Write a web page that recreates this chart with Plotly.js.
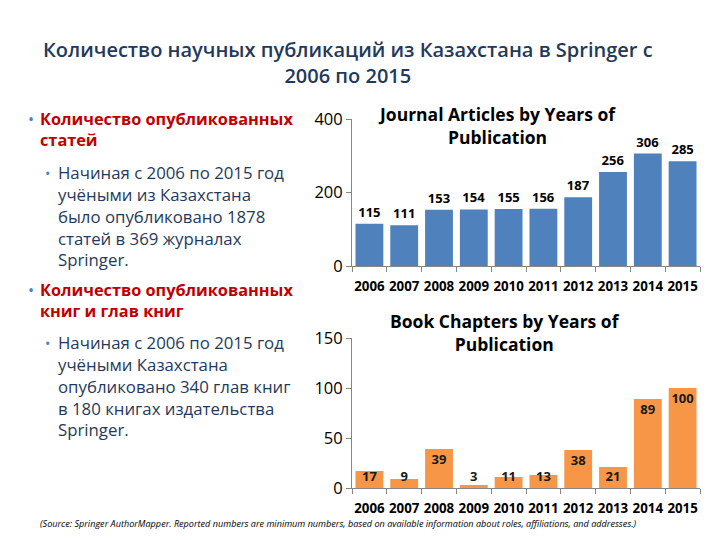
<!DOCTYPE html>
<html><head><meta charset="utf-8">
<script src="https://cdn.plot.ly/plotly-3.0.1.min.js"></script>
<style>html,body{margin:0;padding:0;background:#fff}#chart{width:720px;height:540px}</style>
</head><body><div id="chart"></div>
<script>
const years = ['2006','2007','2008','2009','2010','2011','2012','2013','2014','2015'];
const articles = [115,111,153,154,155,156,187,256,306,285];
const chapters = [17,9,39,3,11,13,38,21,89,100];
const titleLines = 'Количество научных публикаций из Казахстана в Springer с<br>2006 по 2015';
const head1 = 'Количество опубликованных<br>статей';
const body1 = 'Начиная с 2006 по 2015 год<br>учёными из Казахстана<br>было опубликовано 1878<br>статей в 369 журналах<br>Springer.';
const head2 = 'Количество опубликованных<br>книг и глав книг';
const body2 = 'Начиная с 2006 по 2015 год<br>учёными Казахстана<br>опубликовано 340 глав книг<br>в 180 книгах издательства<br>Springer.';
const chart1Title = 'Journal Articles by Years of<br>Publication';
const chart2Title = 'Book Chapters by Years of<br>Publication';
const sourceNote = '(Source: Springer AuthorMapper. Reported numbers are minimum numbers, based on available information about roles, affiliations, and addresses.)';

const FONT = 'Open Sans, Noto Sans, sans-serif';
const navy = '#1F3A5C';
const red = '#C00000';
const dot = '#4F81BD';

const traces = [
  {type:'bar', x:years, y:articles, xaxis:'x', yaxis:'y', marker:{color:'#4F81BD'},
   text:articles.map(String), textposition:'outside', cliponaxis:false,
   textfont:{family:FONT, size:13, color:'#000', weight:'bold'}, hoverinfo:'none'},
  {type:'bar', x:years, y:chapters, xaxis:'x2', yaxis:'y2', marker:{color:'#F79646'},
   hoverinfo:'none'},
  {type:'scatter', mode:'text', x:years, y:chapters.map(v=>Math.max(v-12,10)), xaxis:'x2', yaxis:'y2',
   text:chapters.map(String), textfont:{family:FONT, size:13, color:'#1a1a1a', weight:'bold'},
   cliponaxis:false, hoverinfo:'none'}
];

const xax = (anchor)=>({type:'category', domain:[352/720, 700/720], anchor:anchor, range:[-0.5,9.5],
  showline:true, linecolor:'#868686', ticks:'outside', ticklen:5, tickcolor:'#868686', tickson:'boundaries',
  tickangle:0, automargin:false, ticklabelstandoff:8,
  showgrid:false, tickfont:{family:FONT, size:13.3, color:'#000', weight:'bold'}});

const layout = {
  width:720, height:540, margin:{l:0,r:0,t:0,b:0}, showlegend:false, bargap:0.2,
  paper_bgcolor:'#fff', plot_bgcolor:'#fff',
  xaxis: xax('y'),
  yaxis: {domain:[(540-266)/540, (540-119)/540], anchor:'x', range:[0,400], tickvals:[0,200,400],
    showline:true, linecolor:'#868686', ticks:'outside', ticklen:5, tickcolor:'#868686',
    showgrid:false, zeroline:false, tickfont:{family:FONT, size:16.5, color:'#000'}},
  xaxis2: xax('y2'),
  yaxis2: {domain:[(540-488)/540, (540-338)/540], anchor:'x2', range:[0,150], tickvals:[0,50,100,150],
    showline:true, linecolor:'#868686', ticks:'outside', ticklen:5, tickcolor:'#868686',
    showgrid:false, zeroline:false, tickfont:{family:FONT, size:16.5, color:'#000'}},
  annotations: [
    {xref:'paper', yref:'paper', x:348/720, y:1-62/540, xanchor:'center', yanchor:'middle', showarrow:false,
     text:titleLines, align:'center', font:{family:FONT, size:20, color:navy, weight:600}},
    {xref:'paper', yref:'paper', x:497/720, y:1-125/540, xanchor:'center', yanchor:'middle', showarrow:false,
     text:chart1Title, align:'center', font:{family:FONT, size:17.5, color:'#000', weight:'bold'}},
    {xref:'paper', yref:'paper', x:505/720, y:1-332/540, xanchor:'center', yanchor:'middle', showarrow:false,
     text:chart2Title, align:'center', font:{family:FONT, size:17.5, color:'#000', weight:'bold'}},
    {xref:'paper', yref:'paper', x:26/720, y:1-119/540, xanchor:'left', yanchor:'middle', showarrow:false,
     text:'•', font:{family:FONT, size:16, color:dot}},
    {xref:'paper', yref:'paper', x:38/720, y:1-106/540, xanchor:'left', yanchor:'top', showarrow:false,
     text:head1, align:'left', font:{family:FONT, size:16.3, color:red, weight:'bold'}},
    {xref:'paper', yref:'paper', x:43/720, y:1-173/540, xanchor:'left', yanchor:'middle', showarrow:false,
     text:'•', font:{family:FONT, size:14, color:dot}},
    {xref:'paper', yref:'paper', x:56/720, y:1-159/540, xanchor:'left', yanchor:'top', showarrow:false,
     text:body1, align:'left', font:{family:FONT, size:16.8, color:navy}},
    {xref:'paper', yref:'paper', x:26/720, y:1-290/540, xanchor:'left', yanchor:'middle', showarrow:false,
     text:'•', font:{family:FONT, size:16, color:dot}},
    {xref:'paper', yref:'paper', x:38/720, y:1-277/540, xanchor:'left', yanchor:'top', showarrow:false,
     text:head2, align:'left', font:{family:FONT, size:16.3, color:red, weight:'bold'}},
    {xref:'paper', yref:'paper', x:43/720, y:1-343/540, xanchor:'left', yanchor:'middle', showarrow:false,
     text:'•', font:{family:FONT, size:14, color:dot}},
    {xref:'paper', yref:'paper', x:56/720, y:1-329/540, xanchor:'left', yanchor:'top', showarrow:false,
     text:body2, align:'left', font:{family:FONT, size:16.8, color:navy}},
    {xref:'paper', yref:'paper', x:38/720, y:1-523/540, xanchor:'left', yanchor:'middle', showarrow:false,
     text:'<i>'+sourceNote+'</i>', font:{family:FONT, size:9.1, color:'#000'}}
  ]
};
Plotly.newPlot('chart', traces, layout, {staticPlot:true, displayModeBar:false});
</script></body></html>
